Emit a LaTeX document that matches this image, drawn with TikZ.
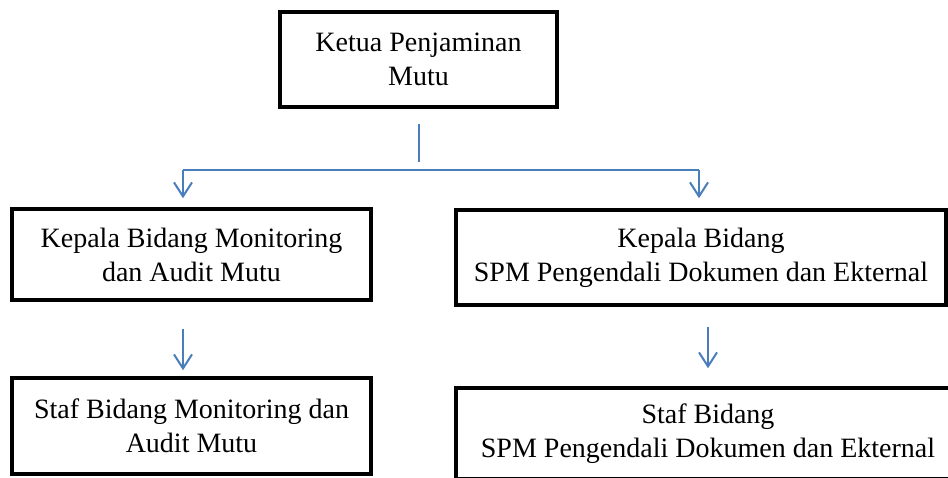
\documentclass[tikz,border=0pt]{standalone}
\usepackage{fontspec}
\setmainfont{Liberation Serif}
\usepackage{tikz}
\usetikzlibrary{arrows.meta,calc}
\definecolor{linkblue}{RGB}{74,126,187}
\tikzset{
  box/.style={draw=black, line width=1.75pt, rectangle, align=center,
    inner sep=2pt, font=\fontsize{14}{17}\selectfont},
  link/.style={draw=linkblue, line width=1pt},
  arr/.style={link, -{Straight Barb[length=7pt,width=9pt,line width=1pt]}}
}

\begin{document}
\begin{tikzpicture}[x=0.5pt,y=-0.5pt]
\clip (0,0) rectangle (948,477);
\useasboundingbox (0,0) rectangle (948,477);
\node[box, minimum width=138.5pt, minimum height=47.5pt] (ketua) at (418.5,59.5) {Ketua Penjaminan\\Mutu};
\node[box, minimum width=179.5pt, minimum height=45.5pt] (kmon) at (191.5,254.5) {Kepala Bidang Monitoring\\dan Audit Mutu};
\node[box, minimum width=245pt, minimum height=47.5pt] (kspm) at (701,257.5) {Kepala Bidang\\SPM Pengendali Dokumen dan Ekternal};
\node[box, minimum width=179.5pt, minimum height=48pt] (smon) at (191.5,426) {Staf Bidang Monitoring dan\\Audit Mutu};
\node[box, minimum width=252pt, minimum height=45.5pt] (sspm) at (708,433.5) {Staf Bidang\\SPM Pengendali Dokumen dan Ekternal};

\coordinate (cabkiri) at (183,170);
\coordinate (cabkanan) at (699,170);
\draw[link] ([yshift=-7.5pt]ketua.south) -- ([yshift=-26.5pt]ketua.south);
\draw[link] (cabkiri) -- (cabkanan);
\draw[arr, shorten >=4.5pt] (cabkiri) -- (cabkiri |- kmon.north);
\draw[arr, shorten >=5pt] (cabkanan) -- (cabkanan |- kspm.north);
\draw[arr, shorten <=13.5pt, shorten >=3pt] (kmon.south -| cabkiri) -- (smon.north -| cabkiri);
\draw[arr, shorten <=10pt, shorten >=9pt] (kspm.south -| sspm.north) -- (sspm.north);
\end{tikzpicture}
\end{document}
